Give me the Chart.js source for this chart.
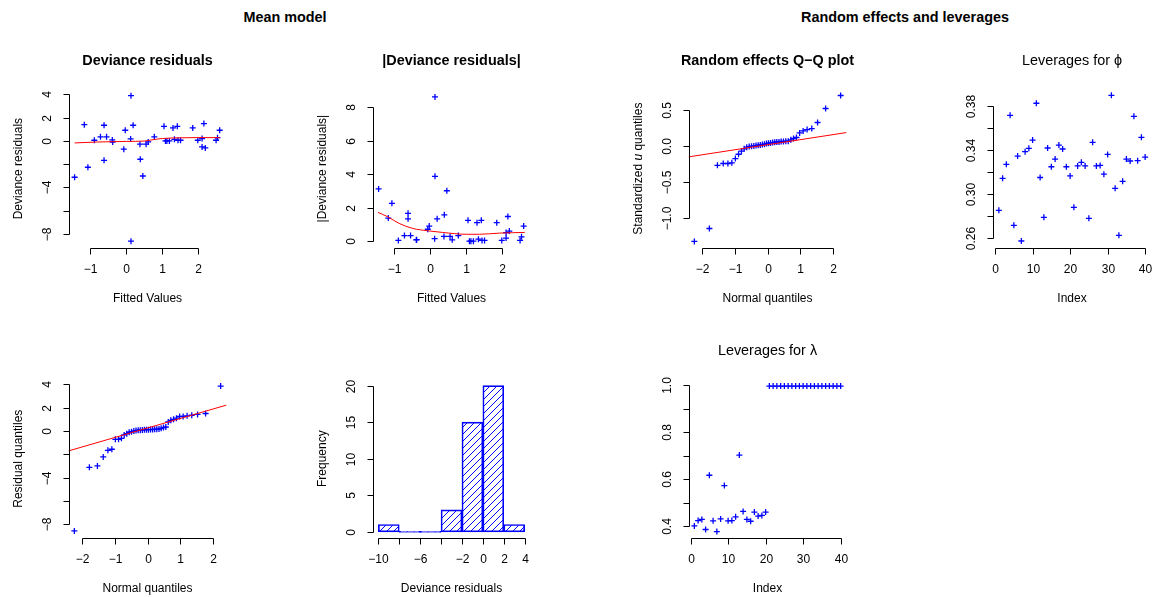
<!DOCTYPE html>
<html lang="en">
<head>
<meta charset="UTF-8">
<title>Mean model / Random effects and leverages</title>
<script src="https://cdn.jsdelivr.net/npm/chart.js"></script>
<style>
    * { margin: 0; padding: 0; box-sizing: border-box; }
    body {
        width: 1160px;
        height: 597px;
        background: #fff;
        position: relative;
        overflow: hidden;
        font-family: 'Liberation Sans', Arial, sans-serif;
    }
    canvas { position: absolute; }
    .header {
        position: absolute;
        top: 8px;
        line-height: 18px;
        font-size: 14.4px;
        font-weight: bold;
        white-space: nowrap;
        transform: translateX(-50%);
    }
</style>
</head>
<body>
<div class="header" style="left:285px">Mean model</div>
<div class="header" style="left:905px">Random effects and leverages</div>

<canvas id="c1"></canvas>
<canvas id="c2"></canvas>
<canvas id="c3"></canvas>
<canvas id="c4"></canvas>
<canvas id="c5"></canvas>
<canvas id="c6"></canvas>
<canvas id="c7"></canvas>

<script>
// fitted values and deviance residuals (one pair per observation)
const fitted = [-1.44, -1.17, -1.07, -0.89, -0.72, -0.62, -0.62, -0.55, -0.39, -0.38,
    -0.07, -0.03, 0.12, 0.13, 0.13, 0.19, 0.38, 0.39, 0.46, 0.55,
    0.61, 0.78, 1.05, 1.09, 1.13, 1.20, 1.30, 1.34, 1.42, 1.44,
    1.51, 1.85, 1.99, 2.11, 2.11, 2.16, 2.20, 2.50, 2.54, 2.60];
const devResiduals = [-3.13, 1.39, -2.27, 0.05, 0.34, 1.34, -1.67, 0.34, 0.08, -0.10,
    -0.72, 0.91, 0.16, 3.88, -8.62, 1.34, -0.29, -1.58, -3.02, -0.29,
    -0.09, 0.34, 1.25, -0.01, -0.01, -0.01, 1.11, 0.13, 1.25, 0.05,
    0.05, 1.11, 0.05, 0.19, -0.52, 1.48, -0.61, 0.05, 0.27, 0.91];
const absResiduals = [3.13, 1.39, 2.27, 0.05, 0.34, 1.34, 1.67, 0.34, 0.08, 0.10,
    0.72, 0.91, 0.16, 3.88, 8.62, 1.34, 0.29, 1.58, 3.02, 0.29,
    0.09, 0.34, 1.25, 0.01, 0.01, 0.01, 1.11, 0.13, 1.25, 0.05,
    0.05, 1.11, 0.05, 0.19, 0.52, 1.48, 0.61, 0.05, 0.27, 0.91];

// smoothed trend lines (red)
const smoothX1 = [-1.44, -0.8, 0, 0.5, 0.75, 1.0, 1.5, 2.0, 2.6];
const smoothY1 = [-0.18, -0.10, -0.05, -0.02, 0.10, 0.20, 0.26, 0.28, 0.27];
const smoothX2 = [-1.46, -1.19, -0.87, -0.49, -0.08, 0.34, 1.0, 1.37, 1.93, 2.63];
const smoothY2 = [1.73, 1.47, 1.07, 0.77, 0.63, 0.53, 0.42, 0.42, 0.49, 0.53];

// normal quantiles for n = 40
const normQuantiles = [-2.241, -1.780, -1.534, -1.356, -1.213, -1.092, -0.984, -0.887, -0.798, -0.714,
    -0.636, -0.561, -0.489, -0.419, -0.352, -0.285, -0.221, -0.157, -0.094, -0.031,
    0.031, 0.094, 0.157, 0.221, 0.285, 0.352, 0.419, 0.489, 0.561, 0.636,
    0.714, 0.798, 0.887, 0.984, 1.092, 1.213, 1.356, 1.534, 1.780, 2.241];
const residualQuantiles = [-8.58, -3.12, -3.00, -2.23, -1.66, -1.57, -0.72, -0.72, -0.63, -0.34,
    -0.23, -0.11, -0.06, 0.00, 0.03, 0.06, 0.07, 0.09, 0.10, 0.11,
    0.11, 0.12, 0.13, 0.14, 0.15, 0.17, 0.23, 0.29, 0.34, 0.78,
    0.91, 1.00, 1.10, 1.24, 1.25, 1.30, 1.35, 1.42, 1.50, 3.85];
const uQuantiles = [-1.330, -1.150, -0.270, -0.245, -0.245, -0.236, -0.176, -0.116, -0.074, -0.041,
    -0.018, -0.009, -0.004, 0.000, 0.005, 0.010, 0.014, 0.019, 0.023, 0.033,
    0.038, 0.042, 0.047, 0.051, 0.056, 0.056, 0.061, 0.061, 0.065, 0.065,
    0.084, 0.103, 0.117, 0.181, 0.209, 0.228, 0.242, 0.326, 0.521, 0.702];
// qq reference lines, given at the two ends
const qqLineX = [-2.42, 2.42];
const qqLineResY = [-1.71, 2.22];
const qqLineUY = [-0.153, 0.186];

// histogram of deviance residuals
const histBreaks = [-10, -8, -6, -4, -2, 0, 2, 4];
const histCounts = [1, 0, 0, 3, 15, 20, 1];

// leverages
const levPhi = [0.2852, 0.3143, 0.3270, 0.3715, 0.2715, 0.3345, 0.2573, 0.3385, 0.3415, 0.3490,
    0.3825, 0.3150, 0.2788, 0.3418, 0.3248, 0.3318, 0.3445, 0.3409, 0.3248, 0.3164,
    0.2879, 0.3255, 0.3288, 0.3255, 0.2779, 0.3470, 0.3255, 0.3260, 0.3180, 0.3360,
    0.3897, 0.3052, 0.2625, 0.3115, 0.3318, 0.3300, 0.3706, 0.3303, 0.3515, 0.3336];
const levLambda = [0.401, 0.424, 0.429, 0.386, 0.617, 0.423, 0.377, 0.431, 0.573, 0.423,
    0.424, 0.440, 0.703, 0.463, 0.429, 0.421, 0.460, 0.443, 0.446, 0.460,
    0.997, 0.997, 0.997, 0.997, 0.997, 0.997, 0.997, 0.997, 0.997, 0.997,
    0.997, 0.997, 0.997, 0.997, 0.997, 0.997, 0.997, 0.997, 0.997, 0.997];

// axis ticks and their labels ('' = tick without label)
const ticksResid = [4, 2, 0, -2, -4, -6, -8];
const labelsResid = ['4', '2', '0', '', '\u22124', '', '\u22128'];
const ticksFitted = [-1, 0, 1, 2];
const labelsFitted = ['\u22121', '0', '1', '2'];
const ticksAbs = [0, 2, 4, 6, 8];
const labelsAbs = ['0', '2', '4', '6', '8'];
const ticksNorm = [-2, -1, 0, 1, 2];
const labelsNorm = ['\u22122', '\u22121', '0', '1', '2'];
const ticksU = [0.5, 0, -0.5, -1];
const labelsU = ['0.5', '0.0', '\u22120.5', '\u22121.0'];
const ticksIndex = [0, 10, 20, 30, 40];
const labelsIndex = ['0', '10', '20', '30', '40'];
const ticksPhi = [0.26, 0.28, 0.30, 0.32, 0.34, 0.36, 0.38];
const labelsPhi = ['0.26', '', '0.30', '', '0.34', '', '0.38'];
const ticksLambda = [0.4, 0.5, 0.6, 0.7, 0.8, 0.9, 1.0];
const labelsLambda = ['0.4', '', '0.6', '', '0.8', '', '1.0'];
const ticksHistX = [-10, -8, -6, -4, -2, 0, 2, 4];
const labelsHistX = ['\u221210', '', '\u22126', '', '\u22122', '0', '2', '4'];
const ticksFreq = [0, 5, 10, 15, 20];
const labelsFreq = ['0', '5', '10', '15', '20'];

const FONT = "'Liberation Sans', Arial, sans-serif";
const BLUE = '#0000ff';
const RED = '#ff0000';
Chart.defaults.font.family = FONT;

// R style axes: line only between first and last tick, rotated y labels
const rAxes = {
    id: 'rAxes',
    afterDraw(chart, args, o) {
        const ctx = chart.ctx;
        const a = chart.chartArea;
        const xs = chart.scales.x, ys = chart.scales.y;
        ctx.save();
        ctx.strokeStyle = '#000';
        ctx.fillStyle = '#000';
        ctx.lineWidth = 1;

        const xp = o.xTicks.map(v => Math.round(xs.getPixelForValue(v)) + 0.5);
        const yp = o.yTicks.map(v => Math.round(ys.getPixelForValue(v)) + 0.5);
        const bx = Math.round(a.bottom) + 0.5;
        const lx = Math.round(a.left) + 0.5;

        ctx.beginPath();
        ctx.moveTo(xp[0], bx);
        ctx.lineTo(xp[xp.length - 1], bx);
        xp.forEach(p => { ctx.moveTo(p, bx); ctx.lineTo(p, bx + 6); });
        ctx.moveTo(lx, yp[0]);
        ctx.lineTo(lx, yp[yp.length - 1]);
        yp.forEach(p => { ctx.moveTo(lx, p); ctx.lineTo(lx - 6, p); });
        ctx.stroke();

        ctx.font = '12px ' + FONT;
        ctx.textAlign = 'center';
        ctx.textBaseline = 'middle';
        o.xLabels.forEach((t, i) => { if (t) ctx.fillText(t, xp[i], a.bottom + 22.4); });
        o.yLabels.forEach((t, i) => {
            if (!t) return;
            ctx.save();
            ctx.translate(a.left - 21, yp[i]);
            ctx.rotate(-Math.PI / 2);
            ctx.fillText(t, 0, 0);
            ctx.restore();
        });

        const cx = (a.left + a.right) / 2;
        ctx.fillText(o.xTitle, cx, a.bottom + 50.6);

        // y title, may contain an italic part
        const parts = o.yTitle;
        const fonts = parts.map(p => (p.italic ? 'italic ' : '') + '12px ' + FONT);
        const widths = parts.map((p, i) => { ctx.font = fonts[i]; return ctx.measureText(p.text).width; });
        const total = widths.reduce((s, w) => s + w, 0);
        ctx.save();
        ctx.translate(a.left - 50, (a.top + a.bottom) / 2);
        ctx.rotate(-Math.PI / 2);
        ctx.textAlign = 'left';
        let pos = -total / 2;
        parts.forEach((p, i) => { ctx.font = fonts[i]; ctx.fillText(p.text, pos, 0); pos += widths[i]; });
        ctx.restore();

        if (o.title) {
            ctx.font = (o.titleBold ? 'bold ' : '') + '14.4px ' + FONT;
            ctx.textAlign = 'center';
            ctx.fillText(o.title, cx, a.top - 29);
        }
        ctx.restore();
    }
};

function toPoints(xs, ys) {
    return xs.map((x, i) => ({ x: x, y: ys[i] }));
}

function pointSet(xs, ys) {
    return {
        data: toPoints(xs, ys),
        pointStyle: 'cross',
        pointRadius: 3,
        pointBorderWidth: 1.3,
        borderColor: BLUE,
        backgroundColor: BLUE,
        showLine: false
    };
}

function lineSet(xs, ys, smooth) {
    return {
        data: toPoints(xs, ys),
        showLine: true,
        pointRadius: 0,
        borderColor: RED,
        borderWidth: 1,
        cubicInterpolationMode: smooth ? 'monotone' : 'default',
        clip: 0
    };
}

// canvas cell and plot box (page pixels) for each panel
function makePanel(id, cell, box, type, datasets, scales, axes, extra) {
    const cv = document.getElementById(id);
    cv.width = cell.w;
    cv.height = cell.h;
    cv.style.left = cell.x + 'px';
    cv.style.top = cell.y + 'px';
    const x = Object.assign({ type: 'linear', display: false, min: scales.x[0], max: scales.x[1] }, extra || {});
    return new Chart(cv, {
        type: type,
        data: { datasets: datasets },
        options: {
            responsive: false,
            animation: false,
            events: [],
            layout: {
                padding: {
                    left: box.l - cell.x,
                    top: box.t - cell.y,
                    right: cell.x + cell.w - (box.l + box.s),
                    bottom: cell.y + cell.h - (box.t + box.s)
                }
            },
            scales: {
                x: x,
                y: { type: 'linear', display: false, min: scales.y[0], max: scales.y[1] }
            },
            plugins: { legend: { display: false }, tooltip: { enabled: false }, rAxes: axes }
        },
        plugins: [rAxes]
    });
}

const TOP = 30, TOPH = 290, BOT = 320, BOTH = 277;
const PLOT = 158;

makePanel('c1', { x: 0, y: TOP, w: 290, h: TOPH }, { l: 68.5, t: 89.6, s: PLOT }, 'scatter',
    [lineSet(smoothX1, smoothY1, true), pointSet(fitted, devResiduals)],
    { x: [-1.61, 2.79], y: [-9.17, 4.40] },
    { xTicks: ticksFitted, xLabels: labelsFitted, yTicks: ticksResid, yLabels: labelsResid,
      xTitle: 'Fitted Values', yTitle: [{ text: 'Deviance residuals' }],
      title: 'Deviance residuals', titleBold: true });

makePanel('c2', { x: 290, y: TOP, w: 290, h: TOPH }, { l: 372.5, t: 89.6, s: PLOT }, 'scatter',
    [lineSet(smoothX2, smoothY2, true), pointSet(fitted, absResiduals)],
    { x: [-1.61, 2.79], y: [-0.376, 9.06] },
    { xTicks: ticksFitted, xLabels: labelsFitted, yTicks: ticksAbs, yLabels: labelsAbs,
      xTitle: 'Fitted Values', yTitle: [{ text: '|Deviance residuals|' }],
      title: '|Deviance residuals|', titleBold: true });

makePanel('c3', { x: 580, y: TOP, w: 290, h: TOPH }, { l: 688.5, t: 89.6, s: PLOT }, 'scatter',
    [lineSet(qqLineX, qqLineUY, false), pointSet(normQuantiles, uQuantiles)],
    { x: [-2.42, 2.42], y: [-1.416, 0.784] },
    { xTicks: ticksNorm, xLabels: labelsNorm, yTicks: ticksU, yLabels: labelsU,
      xTitle: 'Normal quantiles',
      yTitle: [{ text: 'Standardized ' }, { text: 'u', italic: true }, { text: ' quantiles' }],
      title: 'Random effects Q\u2212Q plot', titleBold: true });

makePanel('c4', { x: 870, y: TOP, w: 290, h: TOPH }, { l: 993, t: 89.6, s: PLOT }, 'scatter',
    [pointSet(levPhi.map((v, i) => i + 1), levPhi)],
    { x: [-0.56, 41.56], y: [0.2513, 0.3949] },
    { xTicks: ticksIndex, xLabels: labelsIndex, yTicks: ticksPhi, yLabels: labelsPhi,
      xTitle: 'Index', yTitle: [{ text: '' }],
      title: 'Leverages for \u03d5', titleBold: false });

makePanel('c5', { x: 0, y: BOT, w: 290, h: BOTH }, { l: 68.5, t: 379.7, s: PLOT }, 'scatter',
    [lineSet(qqLineX, qqLineResY, false), pointSet(normQuantiles, residualQuantiles)],
    { x: [-2.42, 2.42], y: [-9.16, 4.40] },
    { xTicks: ticksNorm, xLabels: labelsNorm, yTicks: ticksResid, yLabels: labelsResid,
      xTitle: 'Normal quantiles', yTitle: [{ text: 'Residual quantiles' }] });

// hatched histogram bars
const c6 = document.getElementById('c6');
const tile = document.createElement('canvas');
tile.width = 7;
tile.height = 7;
const tg = tile.getContext('2d');
tg.strokeStyle = BLUE;
tg.lineWidth = 1;
tg.beginPath();
tg.moveTo(0, 7); tg.lineTo(7, 0);
tg.moveTo(-1, 1); tg.lineTo(1, -1);
tg.moveTo(6, 8); tg.lineTo(8, 6);
tg.stroke();
const hatch = c6.getContext('2d').createPattern(tile, 'repeat');

makePanel('c6', { x: 290, y: BOT, w: 290, h: BOTH }, { l: 372.5, t: 379.7, s: PLOT }, 'bar',
    [{
        data: histCounts.map((c, i) => ({ x: (histBreaks[i] + histBreaks[i + 1]) / 2, y: c })),
        backgroundColor: hatch,
        borderColor: BLUE,
        borderWidth: 1,
        borderSkipped: false,
        barPercentage: 1,
        categoryPercentage: 1,
        minBarLength: 1
    }],
    { x: [-10.56, 4.56], y: [-0.8, 20.8] },
    { xTicks: ticksHistX, xLabels: labelsHistX, yTicks: ticksFreq, yLabels: labelsFreq,
      xTitle: 'Deviance residuals', yTitle: [{ text: 'Frequency' }] },
    { offset: false, afterBuildTicks: s => { s.ticks = histBreaks.map(v => ({ value: v })); } });

makePanel('c7', { x: 580, y: BOT, w: 290, h: BOTH }, { l: 688.5, t: 379.7, s: PLOT }, 'scatter',
    [pointSet(levLambda.map((v, i) => i + 1), levLambda)],
    { x: [-0.56, 41.56], y: [0.351, 1.024] },
    { xTicks: ticksIndex, xLabels: labelsIndex, yTicks: ticksLambda, yLabels: labelsLambda,
      xTitle: 'Index', yTitle: [{ text: '' }],
      title: 'Leverages for \u03bb', titleBold: false });
</script>
</body>
</html>
